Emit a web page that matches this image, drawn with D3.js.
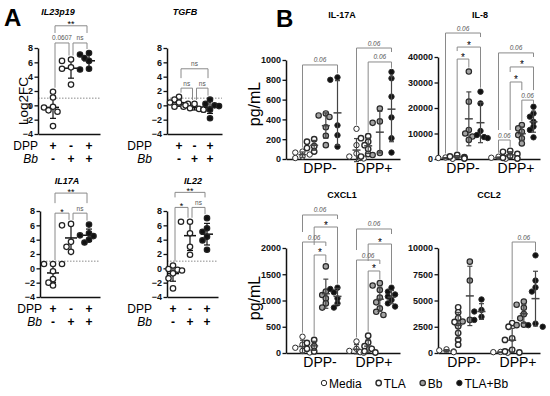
<!DOCTYPE html>
<meta charset="utf-8">
<script src="https://d3js.org/d3.v7.min.js"></script>
<style>
  body { margin: 0; background: #fff; }
  svg text { font-family: Arial, "Liberation Sans", sans-serif; }
</style>
<div id="my_div"></div>
<script>
// ---------- panel A : Log2FC, three conditions ----------
var aGroups = [0, 1, 2];            // DPP+/Bb-, DPP-/Bb+, DPP+/Bb+
var dppRow = ["+", "-", "+"];
var bbRow = ["-", "+", "+"];
var aTicks = [-4, -2, 0, 2, 4, 6, 8];

var il23p19 = [[1.9, 1.1, -0.2, -0.3, -0.7, -0.9, -2.9], [6.4, 6.2, 5.3, 5.1, 2.9], [7.3, 7.1, 6.6, 6.2, 5.1, 5.0]];
var tgfb    = [[1.2, 0.8, 0.4, 0.4, 0.2, -0.2, -0.2], [0.2, 0.0, -0.4, -0.5, -0.6, -0.6], [0.8, 0.2, 0.0, -0.1, -0.6, -1.8]];
var il17aFc = [[0.6, 0.6, 0.6, -0.4, -1.5, -2.0, -2.4], [6.2, 6.0, 3.7, 3.0, 2.3], [6.1, 4.9, 4.6, 4.5, 4.0, 3.6]];
var il22Fc  = [[0.4, -0.1, -0.2, -0.3, -0.7, -1.4, -2.8], [6.5, 6.5, 4.9, 3.0, 1.9], [7.0, 5.6, 5.1, 4.4, 3.9, 2.6]];

// significance brackets: [from, to, level, label]
var il23p19Sig = [[0, 2, 11.1, "**"], [0, 1, 8.7, "0.0607"], [1, 2, 8.7, "ns"]];
var tgfbSig    = [[0, 2, 5.1, "ns"], [0, 1, 2.4, "ns"], [1, 2, 2.4, "ns"]];
var il17aFcSig = [[0, 2, 10.5, "**"], [0, 1, 7.7, "*"], [1, 2, 7.7, "ns"]];
var il22FcSig  = [[0, 2, 10.6, "**"], [0, 1, 8.5, "*"], [1, 2, 8.5, "ns"]];

// ---------- panel B : pg/mL, DPP- / DPP+ x four treatments ----------
var bGroups = ["DPP-", "DPP+"];
var treatments = ["Media", "TLA", "Bb", "TLA+Bb"];

var il17aPg = [
  [[75, 65, 45, 25, 10], [200, 175, 130, 110, 75], [460, 440, 425, 320, 235, 140], [825, 800, 340, 240, 125]],
  [[305, 140, 55, 25, 10, 5], [230, 210, 175, 140, 100, 50, 25], [510, 380, 365, 60, 40], [880, 815, 630, 420, 210, 65]]
];
var il8Pg = [
  [[600, 400, 200, 100], [1600, 1000, 700, 400, 200], [34300, 22500, 11400, 10000, 8800, 7500], [26400, 21800, 11000, 9400, 8600, 8200]],
  [[900, 500, 300, 100], [3200, 2800, 2000, 1200, 500, 200], [13300, 12000, 10700, 9400, 8100, 6100], [20500, 17900, 16600, 14600, 12700, 11400, 8500]]
];
var cxcl1Pg = [
  [[310, 160, 100, 40, 10], [250, 190, 130, 80, 30], [1650, 1170, 1105, 1040, 945, 865], [1245, 1220, 1155, 1040, 945, 865]],
  [[220, 80, 40, 15, 5], [330, 200, 130, 80, 35, 10], [1330, 1285, 1200, 1055, 965, 850, 785, 725], [1245, 1170, 1115, 1075, 1010, 945, 885]]
];
var ccl2Pg = [
  [[350, 250, 150, 80], [4350, 3870, 3330, 2950, 2540, 1900, 1270, 790], [8700, 6900, 3150, 3000], [5100, 4100, 3950, 3450, 3150]],
  [[100, 80, 50, 30], [2850, 2500, 1400, 1250, 300, 150, 50], [4900, 4600, 4300, 3700, 3300, 2700, 2650], [9300, 6900, 6250, 5850, 2800, 2650, 2500]]
];

// [group, from, to, level, label]
var il17aSig = [["DPP-", 0, 3, 950, "0.06"], ["DPP+", 0, 3, 1121, "0.06"], ["DPP+", 1, 3, 980, "0.06"]];
var il8Sig = [["DPP-", 0, 3, 49400, "0.06"], ["DPP-", 1, 3, 43900, "*"], ["DPP-", 1, 2, 39200, "*"],
              ["DPP+", 0, 3, 41600, "0.06"], ["DPP+", 1, 3, 36100, "*"], ["DPP+", 1, 2, 30200, "*"],
              ["DPP+", 2, 3, 23100, "0.06"], ["DPP+", 0, 1, 7450, "0.06"]];
var cxcl1Sig = [["DPP-", 0, 3, 2629, "0.06"], ["DPP-", 1, 3, 2400, "*"], ["DPP-", 0, 2, 2114, "0.06"], ["DPP-", 1, 2, 1867, "*"],
                ["DPP+", 0, 3, 2362, "0.06"], ["DPP+", 1, 3, 2076, "*"], ["DPP+", 0, 2, 1771, "0.06"], ["DPP+", 1, 2, 1562, "*"]];
var ccl2Sig = [["DPP+", 1, 3, 10570, "0.06"]];

var il17aTicks = [0, 200, 400, 600, 800, 1000];
var il8Ticks = [0, 10000, 20000, 30000, 40000];
var cxcl1Ticks = [0, 500, 1000, 1500, 2000];
var ccl2Ticks = [0, 2500, 5000, 7500, 10000];

var markFill = {"Media": "#fff", "TLA": "#fff", "Bb": "#a3a3a3", "TLA+Bb": "#111"};
var markStroke = {"Media": 1, "TLA": 1.4, "Bb": 1.2, "TLA+Bb": 1};

var svg = d3.select("#my_div").append("svg")
  .attr("width", 550).attr("height", 396);

function styleAxis(sel, size) {
  sel.attr("font-family", null).attr("font-size", null);
  sel.select(".domain").attr("stroke", "#111").attr("stroke-width", 1.5);
  sel.selectAll(".tick line").attr("stroke", "#111").attr("stroke-width", 1.3);
  sel.selectAll(".tick text").style("font-size", size + "px").attr("fill", "#111")
    .style("font-weight", "bold");
}

// simple deterministic swarm so points don't sit on each other
function swarm(vals, cx, y, minDist, step) {
  var placed = [];
  vals.slice().sort(d3.descending).forEach(function(v) {
    var py = y(v), k = 0, px;
    while (true) {
      px = cx + (k === 0 ? 0 : (k % 2 ? -1 : 1) * Math.ceil(k / 2) * step);
      var clash = placed.some(function(p) { return Math.hypot(p.x - px, p.y - py) < minDist; });
      if (!clash || k >= 4) break;
      k++;
    }
    placed.push({x: px, y: py, v: v});
  });
  return placed;
}

function meanSd(g, vals, cx, y, meanW, capW, color) {
  var m = d3.mean(vals), sd = d3.deviation(vals);
  g.append("line").attr("x1", cx).attr("x2", cx).attr("y1", y(m - sd)).attr("y2", y(m + sd))
    .attr("stroke", color).attr("stroke-width", 1.2);
  [m - sd, m + sd].forEach(function(v) {
    g.append("line").attr("x1", cx - capW / 2).attr("x2", cx + capW / 2).attr("y1", y(v)).attr("y2", y(v))
      .attr("stroke", color).attr("stroke-width", 1.2);
  });
  g.append("line").attr("x1", cx - meanW / 2).attr("x2", cx + meanW / 2).attr("y1", y(m)).attr("y2", y(m))
    .attr("stroke", color).attr("stroke-width", 1.5);
}

// brackets: legs drop to just above the data, or stop above a lower bracket on the same column
function brackets(g, list, xOf, y, maxOf, inset, fonts) {
  list.forEach(function(b) {
    var yb = y(b.level);
    var legs = [b.from, b.to].map(function(k) {
      var stop = y(maxOf(b.grp, k)) - 4;
      var lower = list.filter(function(o) {
        return o !== b && o.grp === b.grp && o.level < b.level && (o.from === k || o.to === k);
      });
      if (lower.length) stop = Math.min(stop, y(d3.max(lower, function(o) { return o.level; })) - 10);
      return Math.max(stop, yb + 4);
    });
    var x1 = xOf(b.grp, b.from) + inset, x2 = xOf(b.grp, b.to) - inset;
    g.append("path")
      .attr("d", "M" + x1 + "," + legs[0] + "V" + yb + "H" + x2 + "V" + legs[1])
      .attr("fill", "none").attr("stroke", "#8a8a8a").attr("stroke-width", 1);
    var star = b.label.indexOf("*") === 0;
    g.append("text").attr("x", (x1 + x2) / 2).attr("y", star ? yb + 1.5 : yb - 2.5)
      .attr("text-anchor", "middle")
      .style("font-size", (star ? fonts.star : fonts.num) + "px")
      .style("font-style", fonts.italic && !star ? "italic" : "normal")
      .attr("fill", star ? "#000" : "#555")
      .text(b.label);
  });
}

function panelA(data, sig, cfg) {
  var g = svg.append("g");
  var y = d3.scaleLinear().domain([-4, 8]).range([cfg.y0, cfg.y0 - 86]);
  var x = d3.scalePoint().domain(aGroups).range(cfg.xr);

  g.append("line").attr("x1", cfg.axisX).attr("x2", cfg.xEnd).attr("y1", y(1)).attr("y2", y(1))
    .attr("stroke", "#8a8a8a").attr("stroke-width", 1).attr("stroke-dasharray", "1.5,1.5");

  g.append("g").attr("transform", "translate(" + cfg.axisX + ",0)")
    .call(d3.axisLeft(y).tickValues(aTicks).tickSize(3.5).tickSizeOuter(0).tickPadding(1.5))
    .call(styleAxis, 9);
  g.append("g").attr("transform", "translate(0," + y(-4) + ")")
    .call(d3.axisBottom(d3.scaleLinear().range([cfg.axisX, cfg.xEnd])).tickValues([]).tickSizeOuter(0))
    .call(styleAxis, 9);

  aGroups.forEach(function(i) {
    var pts = swarm(data[i], x(i), y, 5.2, 4.5);
    meanSd(g, data[i], x(i), y, 12, 6, "#111");
    g.selectAll(null).data(pts).enter().append("circle")
      .attr("cx", function(d) { return d.x; }).attr("cy", function(d) { return d.y; })
      .attr("r", 2.7)
      .attr("fill", i === 2 ? "#111" : "#fff").attr("stroke", "#222").attr("stroke-width", 1.25);
  });

  brackets(g, sig.map(function(s) { return {grp: 0, from: s[0], to: s[1], level: s[2], label: s[3]}; }),
    function(grp, k) { return x(k); }, y,
    function(grp, k) { return d3.max(data[k]); }, 2, {star: 9, num: 6.5, italic: false});

  g.append("text").attr("x", cfg.titleX).attr("y", cfg.titleY).attr("text-anchor", "middle")
    .style("font-size", "9px").style("font-style", "italic").style("font-weight", "bold").text(cfg.title);

  var rowY = [y(-4) + 15.5, y(-4) + 28.5];
  g.append("text").attr("x", cfg.labelRight).attr("y", rowY[0]).attr("text-anchor", "end")
    .style("font-size", "12px").text("DPP");
  g.append("text").attr("x", cfg.labelRight).attr("y", rowY[1]).attr("text-anchor", "end")
    .style("font-size", "12px").style("font-style", "italic").text("Bb");
  [dppRow, bbRow].forEach(function(row, r) {
    g.selectAll(null).data(aGroups).enter().append("text")
      .attr("x", function(i) { return x(i); }).attr("y", rowY[r])
      .attr("text-anchor", "middle").style("font-size", "12px").style("font-weight", "bold")
      .text(function(i) { return row[i]; });
  });
  if (cfg.ylabel) {
    g.append("text").attr("transform", "translate(" + cfg.ylabelX + "," + cfg.ylabelY + ") rotate(-90)")
      .attr("text-anchor", "middle").style("font-size", "13.5px").text(cfg.ylabel);
  }
}

function panelB(data, sig, ticks, cfg) {
  var g = svg.append("g");
  var y = d3.scaleLinear().domain([0, ticks[ticks.length - 1]]).range(cfg.yr);
  var x0 = d3.scalePoint().domain(bGroups).range(cfg.centers);
  var x1 = d3.scalePoint().domain(treatments).range([-17.5, 17.5]);
  var xOf = function(grp, k) { return x0(grp) + x1(treatments[k]); };

  g.append("g").attr("transform", "translate(" + cfg.axisX + ",0)")
    .call(d3.axisLeft(y).tickValues(ticks).tickSize(3.5).tickSizeOuter(0).tickPadding(1.5).tickFormat(d3.format("d")))
    .call(styleAxis, 9);
  g.append("g").attr("transform", "translate(0," + cfg.yr[0] + ")")
    .call(d3.axisBottom(d3.scaleLinear().range([cfg.axisX, cfg.xEnd])).tickValues([]).tickSizeOuter(0))
    .call(styleAxis, 9);

  bGroups.forEach(function(grp, gi) {
    treatments.forEach(function(t, k) {
      var vals = data[gi][k], cx = xOf(grp, k);
      var pts = swarm(vals, cx, y, 4.8, 3.6);
      g.selectAll(null).data(pts).enter().append("circle")
        .attr("cx", function(d) { return d.x; }).attr("cy", function(d) { return d.y; })
        .attr("r", 2.7)
        .attr("fill", markFill[t]).attr("stroke", "#2a2a2a").attr("stroke-width", markStroke[t]);
      meanSd(g, vals, cx, y, 8, 5, "#444");
    });
    g.append("text").attr("x", x0(grp)).attr("y", cfg.yr[0] + 13.5).attr("text-anchor", "middle")
      .style("font-size", "14px").text(grp);
  });

  brackets(g, sig.map(function(s) { return {grp: s[0], from: s[1], to: s[2], level: s[3], label: s[4]}; }),
    xOf, y, function(grp, k) { return d3.max(data[bGroups.indexOf(grp)][k]); }, 0,
    {star: 10, num: 6.5, italic: true});

  g.append("text").attr("x", cfg.titleX).attr("y", cfg.titleY).attr("text-anchor", "middle")
    .style("font-size", "9px").style("font-weight", "bold").text(cfg.title);
  if (cfg.ylabel) {
    g.append("text").attr("transform", "translate(" + cfg.ylabelX + "," + cfg.ylabelY + ") rotate(-90)")
      .attr("text-anchor", "middle").style("font-size", "16px").text(cfg.ylabel);
  }
}

// ---- draw panel A ----
panelA(il23p19, il23p19Sig, {y0: 134, axisX: 38, xr: [53, 89], xEnd: 100, labelRight: 38,
  title: "IL23p19", titleX: 58, titleY: 15, ylabel: "Log2FC", ylabelX: 28, ylabelY: 101});
panelA(tgfb, tgfbSig, {y0: 134, axisX: 167, xr: [179, 210], xEnd: 222, labelRight: 152,
  title: "TGFB", titleX: 185, titleY: 15});
panelA(il17aFc, il17aFcSig, {y0: 297, axisX: 40, xr: [53, 89], xEnd: 100, labelRight: 42,
  title: "IL17A", titleX: 67, titleY: 184});
panelA(il22Fc, il22FcSig, {y0: 297, axisX: 167, xr: [173, 207], xEnd: 218, labelRight: 152,
  title: "IL22", titleX: 193, titleY: 184});

// ---- draw panel B ----
panelB(il17aPg, il17aSig, il17aTicks, {yr: [159, 60], axisX: 286, centers: [320, 374], xEnd: 400,
  title: "IL-17A", titleX: 342, titleY: 18, ylabel: "pg/mL", ylabelX: 260, ylabelY: 104});
panelB(il8Pg, il8Sig, il8Ticks, {yr: [159, 57], axisX: 438, centers: [463, 516], xEnd: 540,
  title: "IL-8", titleX: 480, titleY: 18});
panelB(cxcl1Pg, cxcl1Sig, cxcl1Ticks, {yr: [353, 248], axisX: 286, centers: [320, 374], xEnd: 400,
  title: "CXCL1", titleX: 342, titleY: 198, ylabel: "pg/mL", ylabelX: 260, ylabelY: 298});
panelB(ccl2Pg, ccl2Sig, ccl2Ticks, {yr: [353, 248], axisX: 438, centers: [464, 518], xEnd: 540,
  title: "CCL2", titleX: 489, titleY: 198});

// panel letters
svg.append("text").attr("x", 4).attr("y", 26).style("font-size", "24px").style("font-weight", "bold").text("A");
svg.append("text").attr("x", 276).attr("y", 27).style("font-size", "24px").style("font-weight", "bold").text("B");

// legend
var lx = 321;
treatments.forEach(function(t) {
  svg.append("circle").attr("cx", lx + 3).attr("cy", 383).attr("r", 2.7)
    .attr("fill", markFill[t]).attr("stroke", "#2a2a2a").attr("stroke-width", markStroke[t]);
  var txt = svg.append("text").attr("x", lx + 8).attr("y", 387.5).style("font-size", "12px").text(t);
  lx += 8 + txt.node().getComputedTextLength() + 14;
});
</script>
